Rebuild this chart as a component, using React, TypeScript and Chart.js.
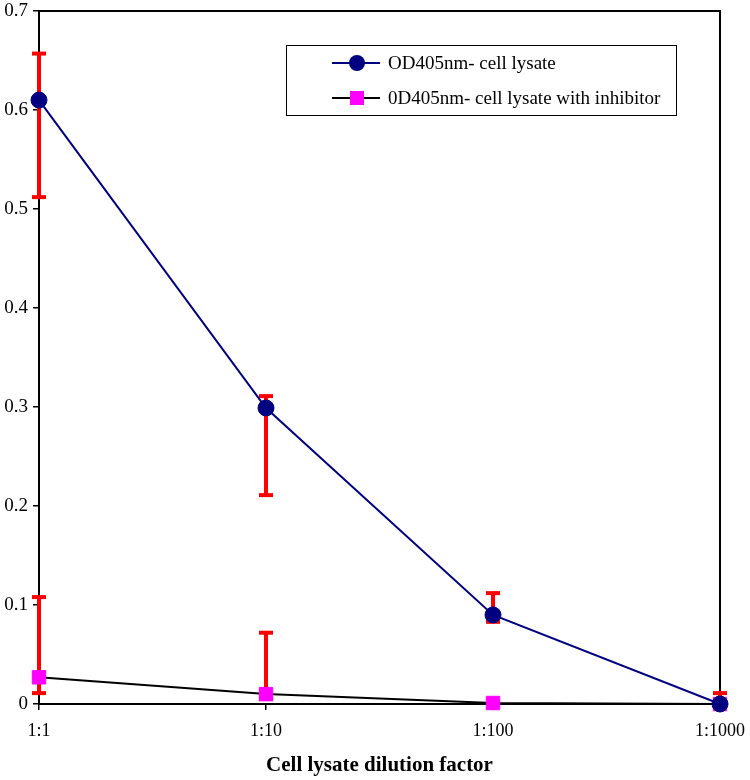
import React, { useEffect, useRef } from "react";
import { Chart, registerables } from "chart.js";

Chart.register(...registerables);

const categories = ["1:1", "1:10", "1:100", "1:1000"];
const seriesNames = ["OD405nm- cell lysate", "0D405nm- cell lysate with inhibitor"];
const lysate = [0.61, 0.299, 0.09, 0.0];
const lysateErrLow: (number | null)[] = [0.512, 0.211, 0.083, null];
const lysateErrHigh: (number | null)[] = [0.657, 0.311, 0.112, null];
const inhibitor = [0.027, 0.01, 0.001, 0.0];
const inhibitorErrLow: (number | null)[] = [0.011, 0.005, null, null];
const inhibitorErrHigh: (number | null)[] = [0.108, 0.072, null, 0.011];
const yMin = 0;
const yMax = 0.7;
const yStep = 0.1;
const xTitle = "Cell lysate dilution factor";

const FONT = "'Liberation Serif', 'Times New Roman', serif";
const NAVY = "#000080";
const PINK = "#ff00ff";
const RED = "#ff0000";

const errLows = [lysateErrLow, inhibitorErrLow];
const errHighs = [lysateErrHigh, inhibitorErrHigh];

const errorBarPlugin = {
  id: "errorBars",
  beforeDatasetsDraw(chart: any) {
    const { ctx, chartArea } = chart;
    const xs = chart.scales.x;
    const ys = chart.scales.y;
    ctx.save();
    ctx.strokeStyle = "#000";
    ctx.lineWidth = 2;
    ctx.beginPath();
    ctx.moveTo(chartArea.left, chartArea.top);
    ctx.lineTo(chartArea.right, chartArea.top);
    ctx.lineTo(chartArea.right, chartArea.bottom);
    ctx.stroke();

    ctx.strokeStyle = RED;
    ctx.lineWidth = 4;
    const capHalf = 7;
    chart.data.datasets.forEach((ds: any, di: number) => {
      ds.data.forEach((v: number, j: number) => {
        const lo = errLows[di][j];
        const hi = errHighs[di][j];
        if (lo === null && hi === null) return;
        const x = xs.getPixelForValue(j);
        const yLo = ys.getPixelForValue(lo === null ? v : lo);
        const yHi = ys.getPixelForValue(hi === null ? v : hi);
        ctx.beginPath();
        ctx.moveTo(x, yLo);
        ctx.lineTo(x, yHi);
        ctx.stroke();
        if (lo !== null) {
          ctx.beginPath();
          ctx.moveTo(x - capHalf, yLo);
          ctx.lineTo(x + capHalf, yLo);
          ctx.stroke();
        }
        if (hi !== null) {
          ctx.beginPath();
          ctx.moveTo(x - capHalf, yHi);
          ctx.lineTo(x + capHalf, yHi);
          ctx.stroke();
        }
      });
    });
    ctx.restore();
  },
};

const legendPlugin = {
  id: "boxLegend",
  afterDraw(chart: any) {
    const { ctx } = chart;
    ctx.save();
    const bx = 286, by = 45, bw = 390, bh = 70;
    ctx.fillStyle = "#fff";
    ctx.fillRect(bx, by, bw, bh);
    ctx.strokeStyle = "#000";
    ctx.lineWidth = 1;
    ctx.strokeRect(bx + 0.5, by + 0.5, bw, bh);
    const rows = [63, 98];
    const lineX0 = 332, lineX1 = 380, mx = 357, tx = 388;
    ctx.font = `19px ${FONT}`;
    ctx.textBaseline = "middle";
    ctx.textAlign = "left";
    rows.forEach((ry, i) => {
      ctx.strokeStyle = i === 0 ? NAVY : "#000";
      ctx.lineWidth = 2;
      ctx.beginPath();
      ctx.moveTo(lineX0, ry);
      ctx.lineTo(lineX1, ry);
      ctx.stroke();
      if (i === 0) {
        ctx.fillStyle = NAVY;
        ctx.beginPath();
        ctx.arc(mx, ry, 8, 0, Math.PI * 2);
        ctx.fill();
      } else {
        ctx.fillStyle = PINK;
        ctx.fillRect(mx - 7, ry - 7, 14, 14);
      }
      ctx.fillStyle = "#000";
      ctx.fillText(seriesNames[i], tx, ry + 1);
    });
    ctx.restore();
  },
};

export default function App() {
  const ref = useRef<HTMLCanvasElement | null>(null);
  useEffect(() => {
    if (!ref.current) return;
    const chart = new Chart(ref.current, {
      type: "line",
      data: {
        labels: categories,
        datasets: [
          {
            label: seriesNames[0],
            data: lysate,
            borderColor: NAVY,
            borderWidth: 2,
            backgroundColor: NAVY,
            pointStyle: "circle",
            pointRadius: 8,
            pointBorderWidth: 1,
            pointBackgroundColor: NAVY,
            pointBorderColor: NAVY,
            tension: 0,
            clip: false,
          },
          {
            label: seriesNames[1],
            data: inhibitor,
            borderColor: "#000",
            borderWidth: 2,
            backgroundColor: PINK,
            pointStyle: "rect",
            pointRadius: 9.5,
            pointBorderWidth: 1,
            pointBackgroundColor: PINK,
            pointBorderColor: PINK,
            tension: 0,
            clip: false,
          },
        ],
      },
      options: {
        animation: false,
        responsive: false,
        maintainAspectRatio: false,
        layout: { padding: { top: 11, right: 30, left: 0, bottom: 0 } },
        plugins: {
          legend: { display: false },
          tooltip: { enabled: false },
        },
        scales: {
          x: {
            type: "category",
            offset: false,
            grid: {
              drawOnChartArea: false,
              drawTicks: true,
              tickLength: 6,
              color: "#000",
              lineWidth: 1.5,
            },
            border: { display: true, color: "#000", width: 2 },
            ticks: {
              color: "#000",
              font: { family: FONT, size: 18 },
              padding: 10,
              maxRotation: 0,
              autoSkip: false,
            },
            title: {
              display: true,
              text: xTitle,
              color: "#000",
              font: { family: FONT, size: 21, weight: "bold" },
              padding: { top: 0, bottom: 2 },
            },
            afterFit(scale: any) {
              scale.height = 76;
              scale.paddingLeft = 0;
              scale.paddingRight = 0;
            },
          },
          y: {
            min: yMin,
            max: yMax,
            grid: {
              drawOnChartArea: false,
              drawTicks: true,
              tickLength: 6,
              color: "#000",
              lineWidth: 1.5,
            },
            border: { display: true, color: "#000", width: 2 },
            ticks: {
              stepSize: yStep,
              color: "#000",
              font: { family: FONT, size: 19 },
              padding: 5,
              callback: (v: any) => String(Math.round(Number(v) * 10) / 10),
            },
            afterFit(scale: any) {
              scale.width = 39;
              scale.paddingTop = 0;
              scale.paddingBottom = 0;
            },
          },
        },
      },
      plugins: [errorBarPlugin, legendPlugin],
    } as any);
    return () => chart.destroy();
  }, []);
  return (
    <div style={{ position: "absolute", left: 0, top: 0, width: 750, height: 780, background: "#fff" }}>
      <canvas ref={ref} width={750} height={780} style={{ width: 750, height: 780, display: "block" }} />
    </div>
  );
}
